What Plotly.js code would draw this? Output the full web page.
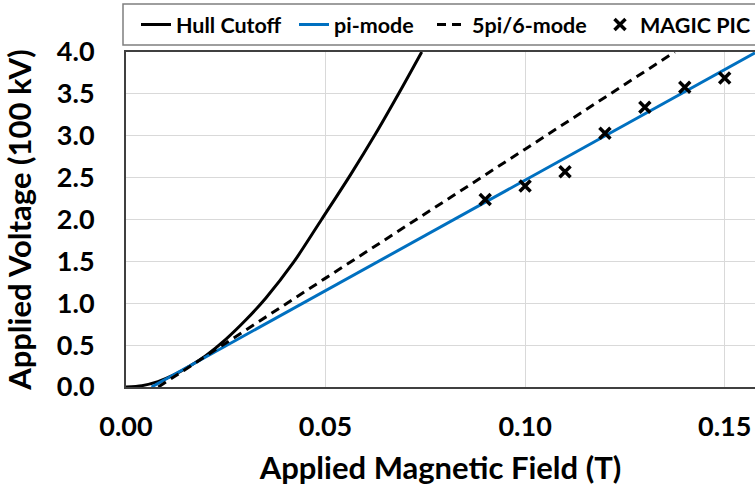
<!DOCTYPE html>
<html>
<head>
<meta charset="utf-8">
<script src="https://cdn.plot.ly/plotly-3.0.1.min.js"></script>
<style>html,body{margin:0;padding:0;background:#fff;}#chart{width:755px;height:487px;}</style>
</head>
<body>
<div id="chart"></div>
<script>
// Data
const hullB = [0, 0.004, 0.008, 0.012, 0.016, 0.020, 0.025, 0.030, 0.035, 0.042, 0.049, 0.0562, 0.0625, 0.0684, 0.0741];
const hullV = [0, 0.016, 0.064, 0.144, 0.25, 0.375, 0.57, 0.80, 1.06, 1.49, 2.0, 2.53, 3.02, 3.51, 4.0];

const piB = [0.0064, 0.05, 0.1, 0.1576];
const piV = [0, 1.15, 2.47, 3.99];

const fiveB = [0.0081, 0.05, 0.1, 0.1375];
const fiveV = [0, 1.3, 2.84, 4.0];

const magicB = [0.09, 0.10, 0.11, 0.12, 0.13, 0.14, 0.15];
const magicV = [2.24, 2.40, 2.57, 3.03, 3.34, 3.58, 3.69];

const xTicks = [0, 0.05, 0.10, 0.15];
const yTicks = [0, 0.5, 1.0, 1.5, 2.0, 2.5, 3.0, 3.5, 4.0];

const FONT = 'Lato, "Open Sans", sans-serif';
const W = 755, H = 487, L = 126, R = 0, T = 52, B = 100;
const pw = W - L - R, ph = H - T - B;
const px2x = p => (p - L) / pw;
const py2y = p => (H - B - p) / ph;

const traces = [
  {x: hullB, y: hullV, mode: 'lines', name: 'Hull Cutoff', legend: 'legend',
   line: {color: '#000000', width: 3, shape: 'spline', smoothing: 0.8}},
  {x: piB, y: piV, mode: 'lines', name: 'pi-mode', legend: 'legend2',
   line: {color: '#0070C0', width: 3}},
  {x: fiveB, y: fiveV, mode: 'lines', name: '5pi/6-mode', legend: 'legend3',
   line: {color: '#000000', width: 3, dash: '9px,6px'}},
  {x: magicB, y: magicV, mode: 'markers', name: 'MAGIC PIC', legend: 'legend4',
   marker: {symbol: 'x-thin', size: 11, color: '#000000', line: {color: '#000000', width: 3.5}}}
];

const legBase = {orientation: 'h', yanchor: 'middle', xanchor: 'left', y: py2y(24.5),
  bgcolor: 'rgba(0,0,0,0)', borderwidth: 0,
  font: {family: FONT, size: 21.5, color: '#000000', weight: 'bold'}};

const layout = {
  width: W, height: H,
  margin: {l: L, r: R, t: T, b: B, pad: 0, autoexpand: false},
  paper_bgcolor: '#ffffff', plot_bgcolor: '#ffffff',
  showlegend: true,
  legend: Object.assign({}, legBase, {x: px2x(136)}),
  legend2: Object.assign({}, legBase, {x: px2x(294)}),
  legend3: Object.assign({}, legBase, {x: px2x(432)}),
  legend4: Object.assign({}, legBase, {x: px2x(600)}),
  xaxis: {
    range: [0, 0.1576], tickvals: xTicks, tickformat: '.2f',
    showgrid: true, gridcolor: '#d9d9d9', gridwidth: 1,
    zeroline: false, showline: true, linecolor: '#404040', linewidth: 2, mirror: true,
    ticks: '', ticklabelstandoff: 15, automargin: false,
    tickfont: {family: FONT, size: 27, color: '#000000', weight: 'bold'},
    title: {text: 'Applied Magnetic Field (T)', standoff: 16,
      font: {family: FONT, size: 31, color: '#000000', weight: 'bold'}}
  },
  yaxis: {
    range: [0, 4.0], tickvals: yTicks, tickformat: '.1f',
    showgrid: true, gridcolor: '#d9d9d9', gridwidth: 1,
    zeroline: false, showline: true, linecolor: '#404040', linewidth: 2, mirror: false,
    ticks: '', ticklabelstandoff: 24, automargin: false,
    tickfont: {family: FONT, size: 27, color: '#000000', weight: 'bold'},
    title: {text: 'Applied Voltage (100 kV)', standoff: 17,
      font: {family: FONT, size: 31, color: '#000000', weight: 'bold'}}
  },
  shapes: [
    {type: 'rect', xref: 'paper', yref: 'paper', layer: 'below',
     x0: px2x(123), x1: px2x(770), y0: py2y(45), y1: py2y(4),
     line: {color: '#7f7f7f', width: 1.5}, fillcolor: 'rgba(0,0,0,0)'}
  ]
};

Plotly.newPlot('chart', traces, layout, {displayModeBar: false, staticPlot: true});
</script>
</body>
</html>
